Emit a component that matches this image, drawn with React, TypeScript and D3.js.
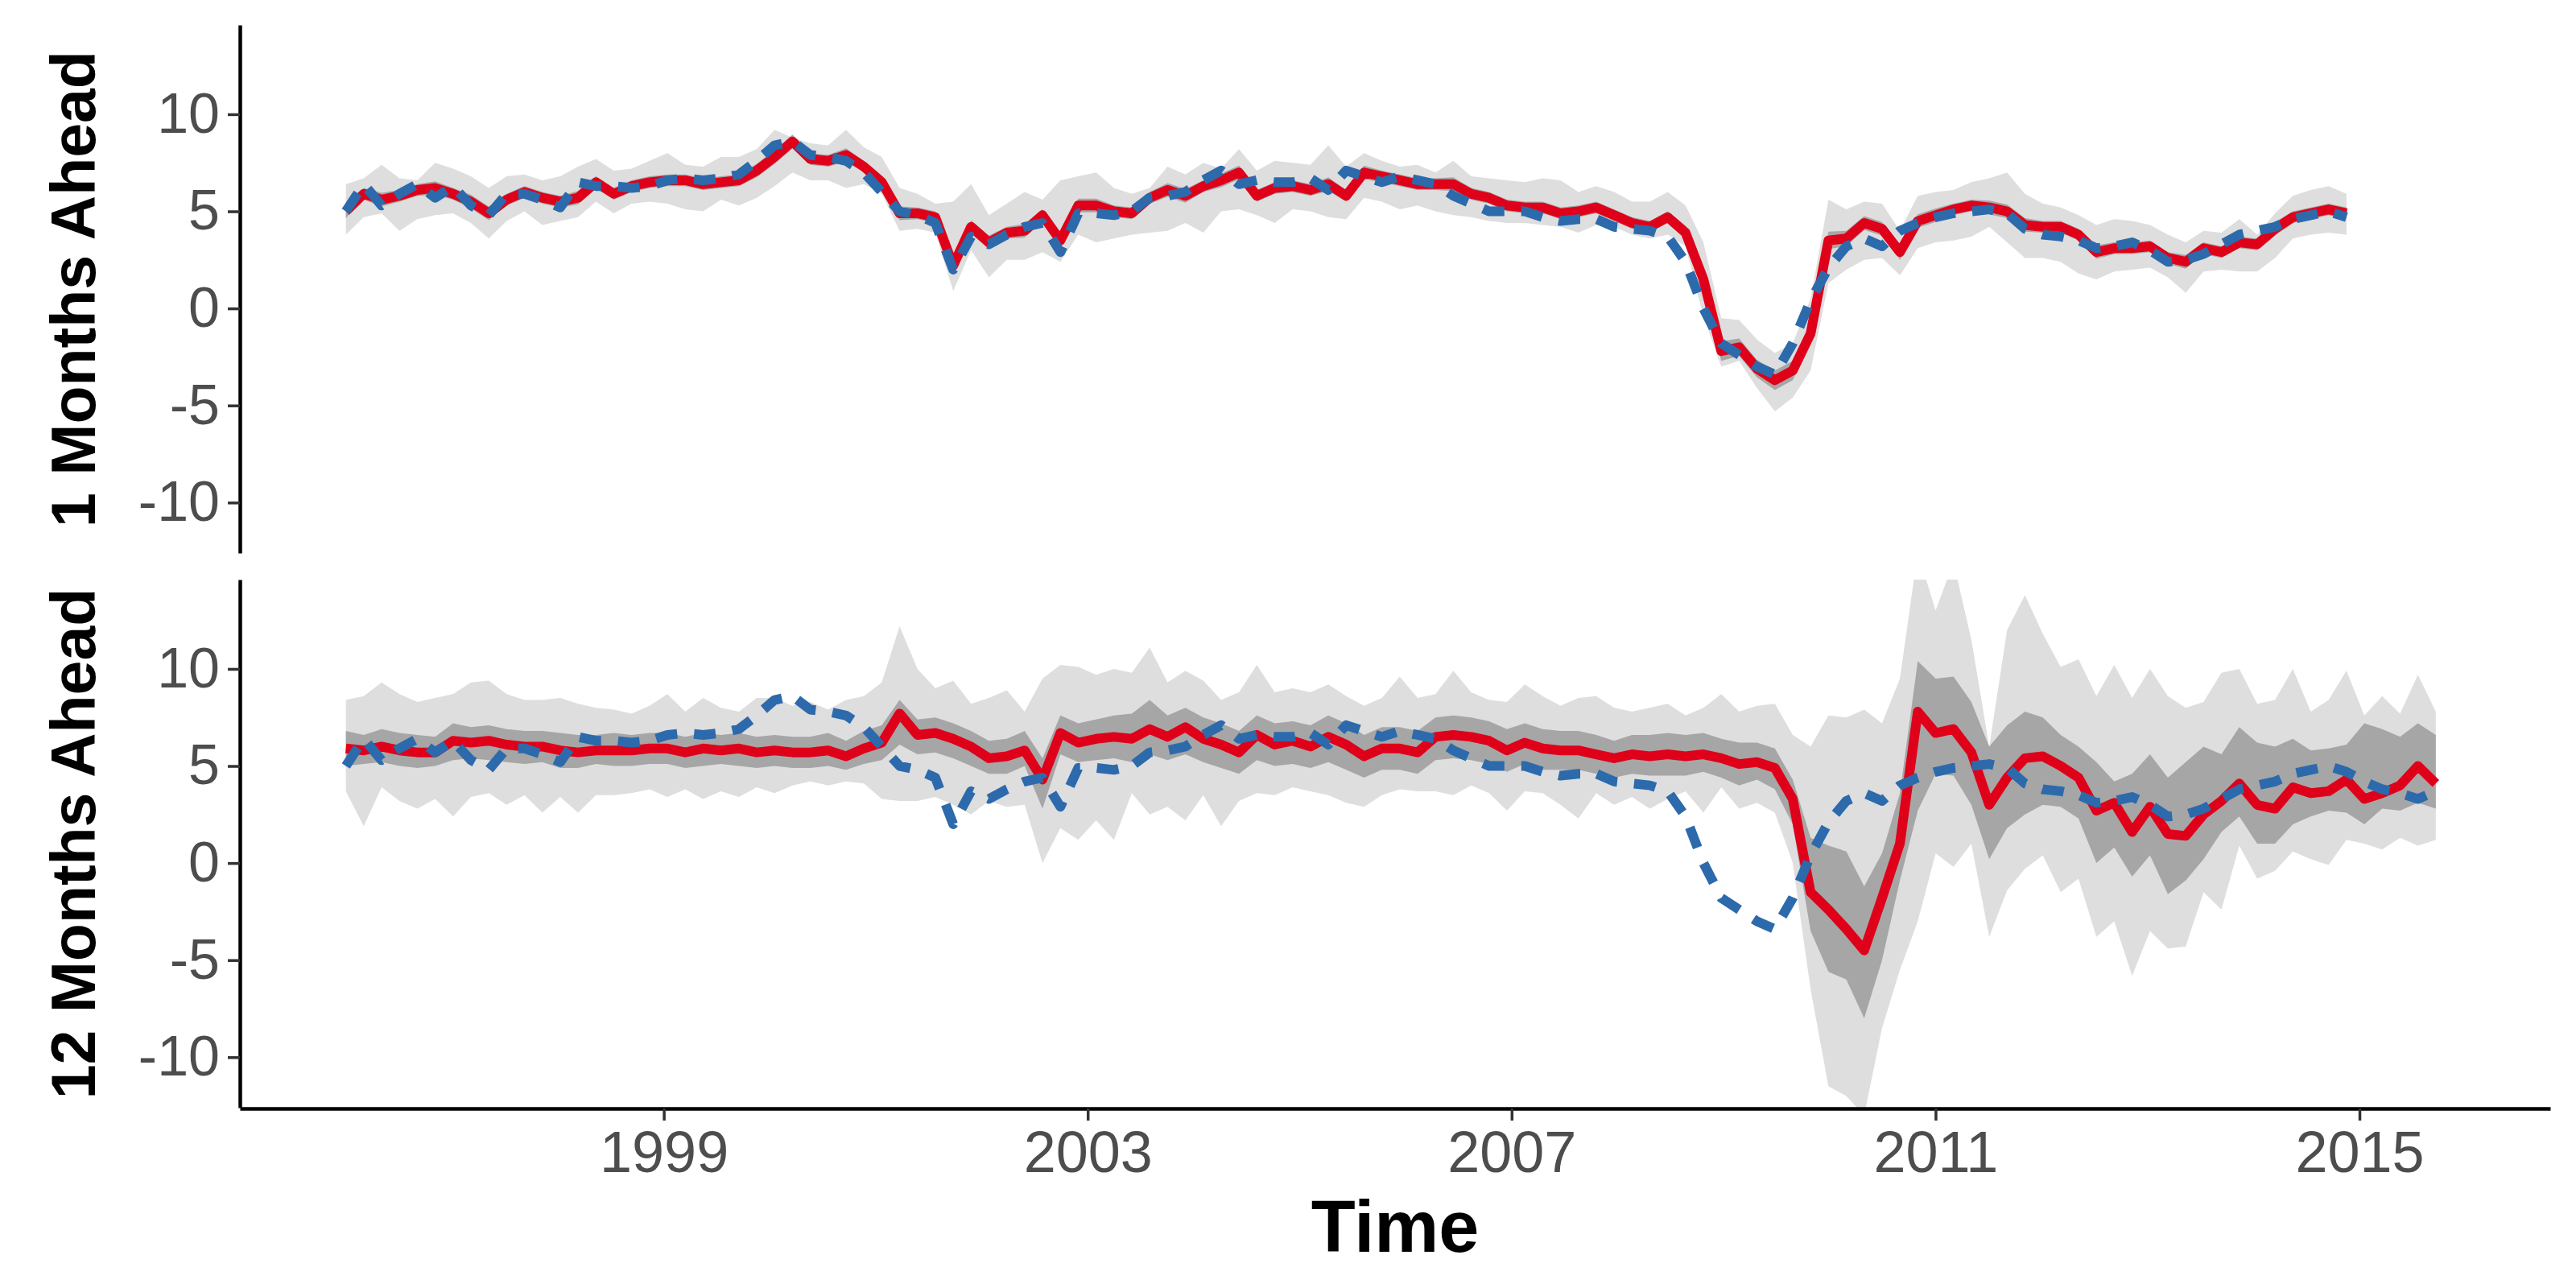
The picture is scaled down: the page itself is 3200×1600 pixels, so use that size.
import React, { useEffect, useRef } from 'react';
import * as d3 from 'd3';

// forecast dates run every two months from the first to the last 12-months-ahead point
const startYear = 1996.0;
const endYear = 2015.72;

const xTicks = [1999, 2003, 2007, 2011, 2015];
const yTicks = [-10, -5, 0, 5, 10];
const panelLabels = ['1 Months Ahead', '12 Months Ahead'];

// realised values (blue dashed line)
const actual = [
  5.0, 6.4, 5.3, 5.9, 6.4, 5.7,
  6.3, 5.3, 4.8, 5.9, 5.9, 5.6,
  5.2, 6.5, 6.3, 6.3, 6.2, 6.3,
  6.6, 6.7, 6.6, 6.7, 6.9, 7.6,
  8.4, 8.6, 7.9, 7.8, 7.6, 7.0,
  6.0, 5.0, 4.8, 4.4, 2.0, 3.7,
  3.3, 3.8, 4.2, 4.4, 2.9, 4.9,
  4.9, 4.8, 5.0, 5.7, 5.8, 6.0,
  6.6, 7.1, 6.4, 6.6, 6.5, 6.5,
  6.7, 6.1, 7.1, 6.8, 6.5, 6.8,
  6.6, 6.4, 5.8, 5.4, 5.0, 5.0,
  5.0, 4.7, 4.5, 4.6, 4.6, 4.2,
  4.1, 4.0, 3.7, 2.4, 0.0, -1.8,
  -2.4, -3.0, -3.4, -1.8, 0.4, 2.1,
  3.2, 3.6, 3.2, 4.0, 4.4, 4.7,
  4.9, 5.0, 5.1, 4.9, 4.1, 3.8,
  3.7, 3.5, 3.1, 3.2, 3.4, 3.0,
  2.4, 2.5, 2.8, 3.3, 3.8, 4.0,
  4.2, 4.6, 4.8, 5.0, 4.7, 4.2,
  3.8, 3.6, 3.3, 3.7,
];

// 1 month ahead: forecast, half width of inner band, outer band
const topFcst = [
  5.0, 5.9, 5.6, 5.8, 6.1, 6.2,
  5.9, 5.5, 4.9, 5.6, 6.0, 5.7,
  5.5, 5.7, 6.5, 5.9, 6.3, 6.5,
  6.6, 6.6, 6.4, 6.5, 6.6, 7.1,
  7.8, 8.6, 7.7, 7.6, 7.9, 7.3,
  6.5, 4.9, 4.9, 4.7, 2.2, 4.2,
  3.4, 3.9, 4.0, 4.8, 3.5, 5.3,
  5.3, 5.0, 4.9, 5.7, 6.1, 5.8,
  6.3, 6.6, 7.0, 5.8, 6.2, 6.3,
  6.1, 6.4, 5.8, 7.0, 6.8, 6.6,
  6.4, 6.4, 6.4, 5.9, 5.7, 5.3,
  5.2, 5.2, 4.9, 5.0, 5.2, 4.8,
  4.4, 4.2, 4.7, 3.9, 1.5, -2.2,
  -2.0, -3.1, -3.7, -3.2, -1.3, 3.5,
  3.6, 4.4, 4.1, 2.9, 4.5, 4.8,
  5.1, 5.3, 5.2, 5.0, 4.3, 4.2,
  4.2, 3.8, 2.9, 3.1, 3.1, 3.2,
  2.6, 2.4, 3.1, 2.9, 3.4, 3.3,
  4.1, 4.7, 4.9, 5.1, 4.9,
];

const topSpread50 = [
  0.35, 0.3, 0.35, 0.3, 0.3, 0.35,
  0.3, 0.35, 0.35, 0.3, 0.3, 0.3,
  0.3, 0.35, 0.3, 0.3, 0.3, 0.3,
  0.3, 0.3, 0.3, 0.3, 0.3, 0.35,
  0.35, 0.35, 0.3, 0.3, 0.35, 0.3,
  0.35, 0.35, 0.3, 0.3, 0.45, 0.35,
  0.35, 0.3, 0.35, 0.3, 0.4, 0.35,
  0.35, 0.3, 0.3, 0.3, 0.35, 0.35,
  0.3, 0.35, 0.35, 0.3, 0.3, 0.3,
  0.3, 0.35, 0.3, 0.35, 0.3, 0.3,
  0.3, 0.3, 0.35, 0.3, 0.3, 0.3,
  0.3, 0.3, 0.3, 0.3, 0.3, 0.3,
  0.3, 0.3, 0.3, 0.35, 0.5, 0.5,
  0.45, 0.45, 0.5, 0.5, 0.5, 0.45,
  0.4, 0.35, 0.35, 0.4, 0.35, 0.35,
  0.3, 0.3, 0.35, 0.35, 0.35, 0.3,
  0.3, 0.3, 0.35, 0.3, 0.3, 0.3,
  0.3, 0.35, 0.3, 0.3, 0.3, 0.3,
  0.35, 0.3, 0.3, 0.3, 0.3,
];

const topLo90 = [
  3.8, 4.7, 4.9, 4.0, 4.6, 4.8,
  4.9, 4.4, 3.6, 4.5, 5.0, 4.3,
  4.5, 4.7, 5.5, 4.9, 5.4, 5.5,
  5.4, 5.1, 5.0, 5.6, 5.3, 5.7,
  6.3, 7.0, 6.6, 6.6, 6.2, 6.4,
  5.9, 4.0, 4.1, 3.9, 0.9, 3.0,
  1.6, 2.5, 2.5, 2.9, 2.4, 3.8,
  3.4, 3.6, 3.8, 3.9, 4.0, 4.4,
  3.9, 5.0, 5.1, 4.8, 4.4, 5.1,
  5.0, 4.7, 4.6, 5.7, 5.5, 5.1,
  5.3, 5.0, 4.8, 4.7, 4.5, 4.4,
  4.4, 4.3, 4.2, 3.9, 4.3, 4.2,
  3.8, 3.6, 3.8, 3.2, -0.4, -3.0,
  -2.7, -4.1, -5.3, -4.6, -3.2, 1.3,
  2.0, 2.5, 2.6, 1.7, 3.1, 3.4,
  3.5, 3.7, 4.2, 3.4, 2.6, 2.6,
  2.4, 1.8, 1.5, 1.9, 2.0, 2.1,
  1.6, 0.8, 1.9, 2.0, 1.9, 1.9,
  2.6, 3.6, 3.8, 3.9, 3.8,
];

const topHi90 = [
  6.4, 6.7, 7.4, 6.7, 6.6, 7.5,
  7.2, 6.8, 6.2, 6.8, 6.9, 6.6,
  6.8, 7.3, 7.7, 7.1, 7.2, 7.6,
  8.0, 7.4, 7.3, 7.8, 7.8, 8.2,
  9.2, 8.8, 8.5, 8.4, 9.2, 8.3,
  7.8, 6.2, 5.9, 5.4, 5.5, 6.4,
  4.8, 5.4, 6.0, 5.6, 6.6, 6.8,
  7.0, 6.2, 5.9, 6.2, 7.3, 6.9,
  7.5, 7.2, 8.2, 7.1, 7.6, 7.5,
  7.4, 8.4, 7.3, 8.0, 7.6, 7.3,
  7.4, 7.0, 7.6, 6.8, 6.7, 6.6,
  6.5, 6.7, 6.6, 6.0, 6.3, 6.0,
  5.5, 5.5, 6.0, 5.3, 3.4, -0.5,
  -0.6, -1.6, -2.3, -1.8, 0.5, 5.6,
  5.1, 5.5, 5.4, 4.0, 5.8, 6.0,
  6.1, 6.5, 6.7, 7.0, 5.9, 5.4,
  5.2, 4.8, 4.3, 4.6, 4.5, 4.3,
  3.8, 3.4, 4.0, 3.9, 4.6, 3.8,
  4.9, 5.8, 6.1, 6.3, 5.9,
];

// 12 months ahead: forecast, inner band, outer band
const botFcst = [
  5.9, 5.8, 6.0, 5.8, 5.7, 5.7,
  6.3, 6.2, 6.3, 6.1, 6.0, 6.0,
  5.8, 5.7, 5.8, 5.8, 5.8, 5.9,
  5.9, 5.7, 5.9, 5.8, 5.9, 5.7,
  5.8, 5.7, 5.7, 5.8, 5.5, 5.9,
  6.2, 7.7, 6.6, 6.7, 6.4, 6.0,
  5.4, 5.5, 5.8, 4.3, 6.7, 6.2,
  6.4, 6.5, 6.4, 6.9, 6.5, 7.0,
  6.4, 6.1, 5.7, 6.6, 6.1, 6.3,
  6.0, 6.5, 6.1, 5.5, 5.9, 5.9,
  5.7, 6.5, 6.6, 6.5, 6.3, 5.8,
  6.2, 5.9, 5.8, 5.8, 5.6, 5.4,
  5.6, 5.5, 5.6, 5.5, 5.6, 5.4,
  5.1, 5.2, 4.9, 3.3, -1.5, -2.4,
  -3.4, -4.5, -1.8, 1.0, 7.8, 6.7,
  6.9, 5.7, 3.0, 4.4, 5.4, 5.5,
  5.0, 4.4, 2.7, 3.1, 1.6, 2.9,
  1.5, 1.4, 2.5, 3.2, 4.1, 3.0,
  2.8, 3.9, 3.6, 3.7, 4.3, 3.3,
  3.6, 4.0, 5.0, 4.1,
];

const botLo50 = [
  5.0, 5.1, 5.2, 5.0, 4.9, 5.0,
  5.3, 5.4, 5.3, 5.2, 5.1, 5.2,
  4.9, 4.9, 5.1, 5.0, 5.0, 5.1,
  5.1, 4.9, 5.0, 5.1, 5.0, 4.9,
  5.0, 4.9, 4.9, 5.0, 4.8, 5.1,
  5.3, 6.1, 5.6, 5.7, 5.4, 5.0,
  4.6, 4.6, 5.0, 2.8, 5.6, 5.2,
  5.3, 5.4, 5.2, 5.6, 5.3, 5.6,
  5.2, 4.9, 4.6, 5.3, 5.0, 5.1,
  4.9, 5.2, 4.8, 4.4, 4.8, 4.8,
  4.6, 5.3, 5.4, 5.3, 5.1, 4.7,
  5.1, 4.8, 4.8, 4.8, 4.6, 4.4,
  4.6, 4.5, 4.5, 4.5, 4.7, 4.4,
  4.0, 4.3, 3.8, 2.0, -3.5, -5.6,
  -6.0, -8.0, -5.0, -0.9, 2.7, 4.6,
  4.5, 3.0, 0.2, 1.8, 2.5, 3.0,
  2.9, 2.3, 0.0, 0.8, -0.7, 0.4,
  -1.6, -0.9, 0.2, 1.6, 2.4, 1.0,
  1.0, 2.0, 2.4, 2.7, 2.6, 2.0,
  2.8, 2.7, 3.1, 2.8,
];

const botHi50 = [
  6.8, 6.6, 6.9, 6.7, 6.6, 6.5,
  7.2, 7.0, 7.1, 6.9, 6.8, 6.8,
  6.7, 6.6, 6.6, 6.7, 6.6, 6.7,
  6.7, 6.5, 6.7, 6.6, 6.7, 6.5,
  6.6, 6.5, 6.5, 6.7, 6.3, 6.8,
  7.1, 8.4, 7.4, 7.5, 7.2, 6.8,
  6.3, 6.4, 6.8, 5.4, 7.6, 7.2,
  7.4, 7.6, 7.7, 8.4, 7.6, 8.0,
  7.5, 7.2, 6.8, 7.6, 7.2, 7.3,
  7.1, 7.6, 7.2, 6.6, 7.0, 7.0,
  6.8, 7.5, 7.6, 7.5, 7.3, 6.9,
  7.2, 6.9, 6.8, 6.8, 6.6, 6.3,
  6.6, 6.6, 6.7, 6.6, 6.7, 6.4,
  6.2, 6.2, 5.9, 4.3, 1.3, 0.9,
  0.6, -1.2, 0.5, 3.6, 10.4, 9.5,
  9.6, 8.3, 6.0, 7.1, 7.8, 7.5,
  6.6, 6.0, 5.2, 4.2, 4.6, 5.6,
  4.4, 5.2, 6.0, 5.6, 7.0, 6.2,
  6.0, 6.4, 5.8, 5.9, 6.1, 7.2,
  6.9, 6.5, 7.2, 6.6,
];

const botLo90 = [
  3.7, 1.9, 3.9, 3.2, 2.8, 3.3,
  2.4, 3.4, 3.6, 3.0, 3.5, 2.6,
  3.4, 2.6, 3.5, 3.5, 3.6, 3.8,
  3.4, 3.8, 3.3, 3.7, 3.4, 3.9,
  3.6, 4.0, 4.2, 4.0, 4.2, 4.1,
  3.3, 3.2, 3.2, 3.4, 3.0, 2.5,
  3.2, 2.9, 3.0, 0.0, 1.8, 1.2,
  2.2, 1.2, 3.6, 2.5, 2.9, 2.2,
  3.5, 1.9, 3.2, 3.6, 3.5, 3.9,
  3.7, 3.5, 3.1, 2.9, 3.5, 3.8,
  3.7, 3.7, 3.5, 4.0, 3.6, 2.7,
  3.7, 3.6, 3.0, 2.3, 3.6, 3.0,
  3.4, 2.8, 3.3, 3.7, 2.6, 3.9,
  2.8, 3.1, 2.6, 0.0, -6.5, -11.5,
  -12.0, -13.0, -8.5, -5.5, -3.0, 0.5,
  -0.2, 1.0, -3.8, -1.4, -0.3, 0.4,
  -1.5, -0.8, -3.8, -3.0, -5.8, -3.5,
  -4.4, -4.3, -1.5, -2.4, 0.9, -0.8,
  -0.4, 0.6, 0.2, -0.1, 1.2, 1.0,
  0.7, 1.3, 0.9, 1.2,
];

const botHi90 = [
  8.4, 8.6, 9.3, 8.7, 8.3, 8.5,
  8.7, 9.3, 9.4, 8.7, 8.4, 8.4,
  8.5, 8.2, 8.0, 7.9, 7.7, 8.1,
  8.7, 7.8, 8.5, 8.0, 7.8, 8.5,
  8.5, 8.1, 8.3, 7.9, 8.4, 8.6,
  9.3, 12.2, 10.0, 9.0, 9.4, 8.2,
  8.5, 8.9, 7.8, 9.5, 10.2, 10.1,
  9.7, 10.0, 9.8, 11.1, 9.3, 9.9,
  9.4, 8.4, 8.8, 10.2, 8.8, 9.0,
  8.8, 9.2, 8.6, 8.1, 8.5, 9.6,
  8.5, 8.7, 9.9, 8.8, 8.4, 8.3,
  9.2, 8.6, 8.1, 8.5, 8.6, 8.0,
  7.8, 8.0, 8.2, 7.6, 8.0, 8.7,
  7.8, 8.1, 8.2, 6.6, 6.0, 7.6,
  7.5, 7.9, 7.2, 9.5, 16.0, 13.0,
  15.5, 11.5, 6.0, 12.0, 13.8, 11.8,
  10.1, 10.5, 8.6, 10.2, 8.5, 10.0,
  8.6, 8.0, 8.3, 9.8, 10.0, 8.2,
  8.4, 10.0, 7.8, 8.4, 9.9, 7.6,
  8.6, 7.7, 9.7, 7.8,
];

const FONT = '"Liberation Sans", Arial, Helvetica, sans-serif';

const App: React.FC = () => {
  const svgRef = useRef<SVGSVGElement>(null);
  const width = 3200;
  const height = 1600;

  useEffect(() => {
    if (!svgRef.current) return;
    const svg = d3.select(svgRef.current);
    svg.selectAll('*').remove();

    const n = actual.length;
    const dates = d3.range(n).map(i => startYear + (i * (endYear - startYear)) / (n - 1));

    const left = 298;
    const right = 3168;
    const panels = [
      { top: 31, bottom: 687 },
      { top: 720, bottom: 1376 },
    ];

    const x = d3.scaleLinear().domain([1995.0, 2016.8]).range([left, right]);
    // plain hyphen for negatives, as in the original
    const fmt = (d: d3.NumberValue) => String(d);

    const panelData = [
      {
        fc: topFcst,
        lo50: topFcst.map((v, i) => v - topSpread50[i]),
        hi50: topFcst.map((v, i) => v + topSpread50[i]),
        lo90: topLo90,
        hi90: topHi90,
        act: actual.slice(0, topFcst.length),
      },
      {
        fc: botFcst,
        lo50: botLo50,
        hi50: botHi50,
        lo90: botLo90,
        hi90: botHi90,
        act: actual,
      },
    ];

    panelData.forEach((p, k) => {
      const { top, bottom } = panels[k];
      const y = d3.scaleLinear().domain([-12.6, 14.6]).range([bottom, top]);

      const clipId = `panel-clip-${k}`;
      svg.append('clipPath').attr('id', clipId)
        .append('rect')
        .attr('x', left)
        .attr('y', top)
        .attr('width', right - left)
        .attr('height', bottom - top);

      const g = svg.append('g').attr('clip-path', `url(#${clipId})`);

      const band = (lo: number[], hi: number[]) =>
        d3.area<number>()
          .x((_, i) => x(dates[i]))
          .y0((_, i) => y(lo[i]))
          .y1((_, i) => y(hi[i]))(lo);

      const line = d3.line<number>()
        .x((_, i) => x(dates[i]))
        .y(d => y(d));

      // outer and inner bands
      g.append('path').attr('d', band(p.lo90, p.hi90)).attr('fill', '#DEDEDE');
      g.append('path').attr('d', band(p.lo50, p.hi50)).attr('fill', '#A6A6A6');

      // forecast
      g.append('path')
        .datum(p.fc)
        .attr('d', line)
        .attr('fill', 'none')
        .attr('stroke', '#DF0019')
        .attr('stroke-width', 12)
        .attr('stroke-linejoin', 'round');

      // realised
      g.append('path')
        .datum(p.act)
        .attr('d', line)
        .attr('fill', 'none')
        .attr('stroke', '#2C6AAC')
        .attr('stroke-width', 12)
        .attr('stroke-dasharray', '27 21')
        .attr('stroke-linejoin', 'round');

      // y axis
      const yAxis = svg.append('g')
        .attr('transform', `translate(${left},0)`)
        .call(d3.axisLeft(y).tickValues(yTicks).tickFormat(fmt).tickSize(15).tickSizeOuter(0).tickPadding(10));
      yAxis.select('.domain').attr('stroke', '#000').attr('stroke-width', 4.5);
      yAxis.selectAll('.tick line').attr('stroke', '#333').attr('stroke-width', 3.5);
      yAxis.selectAll('.tick text')
        .attr('font-size', 70)
        .attr('font-family', FONT)
        .attr('fill', '#4D4D4D');

      // panel label
      svg.append('text')
        .attr('transform', `translate(118,${(top + bottom) / 2}) rotate(-90)`)
        .attr('text-anchor', 'middle')
        .attr('font-family', FONT)
        .attr('font-weight', 'bold')
        .attr('font-size', 77)
        .attr('fill', '#000')
        .text(panelLabels[k]);
    });

    // x axis, bottom panel only
    const xAxis = svg.append('g')
      .attr('transform', `translate(0,${panels[1].bottom + 1})`)
      .call(d3.axisBottom(x).tickValues(xTicks).tickFormat(fmt).tickSize(15).tickSizeOuter(0).tickPadding(13));
    xAxis.select('.domain').attr('stroke', '#000').attr('stroke-width', 4.5);
    xAxis.selectAll('.tick line').attr('stroke', '#333').attr('stroke-width', 3.5);
    xAxis.selectAll('.tick text')
      .attr('font-size', 72)
      .attr('font-family', FONT)
      .attr('fill', '#4D4D4D');

    svg.append('text')
      .attr('x', (left + right) / 2)
      .attr('y', 1555)
      .attr('text-anchor', 'middle')
      .attr('font-family', FONT)
      .attr('font-weight', 'bold')
      .attr('font-size', 90)
      .attr('fill', '#000')
      .text('Time');
  }, []);

  return (
    <svg
      ref={svgRef}
      width={width}
      height={height}
      style={{ position: 'absolute', left: 0, top: 0, background: '#fff' }}
    />
  );
};

export default App;
